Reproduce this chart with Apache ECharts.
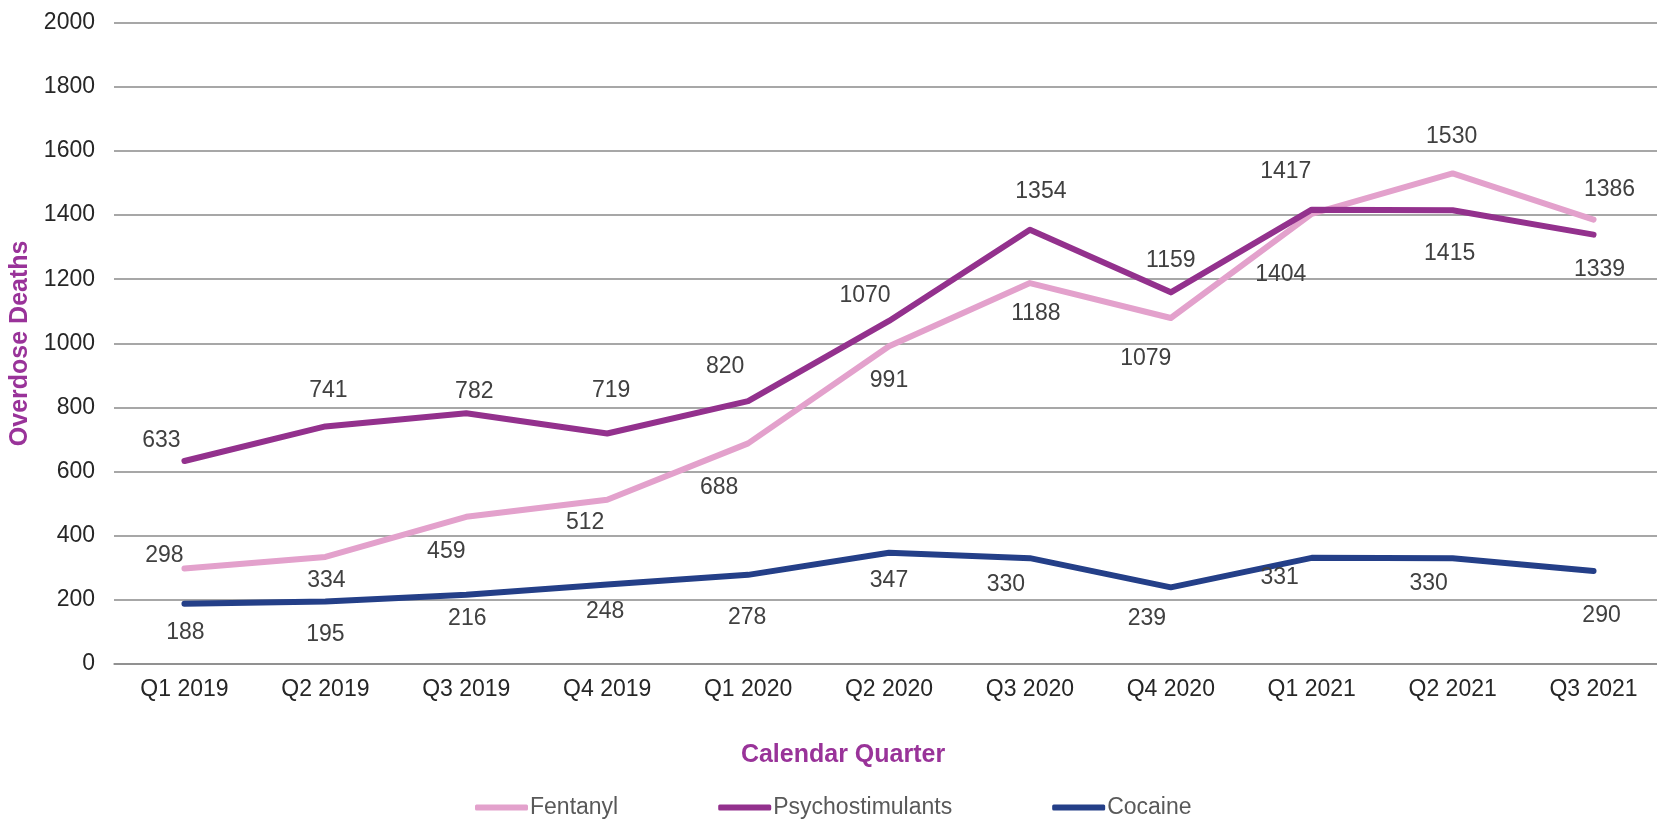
<!DOCTYPE html>
<html>
<head>
<meta charset="utf-8">
<script src="https://cdn.jsdelivr.net/npm/echarts@6/dist/echarts.min.js"></script>
<style>
html,body{margin:0;padding:0;background:#fff;}
#chart{width:1657px;height:819px;}
</style>
</head>
<body>
<div id="chart"></div>
<script>
const categories = ['Q1 2019','Q2 2019','Q3 2019','Q4 2019','Q1 2020','Q2 2020','Q3 2020','Q4 2020','Q1 2021','Q2 2021','Q3 2021'];
const fentanyl = [298, 334, 459, 512, 688, 991, 1188, 1079, 1404, 1530, 1386];
const psychostimulants = [633, 741, 782, 719, 820, 1070, 1354, 1159, 1417, 1415, 1339];
const cocaine = [188, 195, 216, 248, 278, 347, 330, 239, 331, 330, 290];
const yTicks = [0, 200, 400, 600, 800, 1000, 1200, 1400, 1600, 1800, 2000];

// label placement (layout only)
const fentanylLabelOffsets = [[-20,-13],[1,24],[-20,35],[-22,23],[-29,44],[0,34],[6,31],[-25,41],[-31,61],[-1,-37],[16,-30]];
const psychoLabelOffsets = [[-23,-20],[3,-36],[8,-22],[4,-43],[-23,-34],[-24,-25],[11,-38],[0,-32],[-26,-38],[-3,43],[6,35]];
const cocaineLabelOffsets = [[1,29],[0,33],[1,24],[-2,27],[-1,43],[0,28],[-24,26],[-24,31],[-32,20],[-24,25],[8,45]];

const FONT = '"Liberation Sans", Arial, sans-serif';
const labelStyle = {show: true, position: 'inside', color: '#404040', fontSize: 23, fontFamily: FONT, formatter: '{c}'};

function buildData(values, offsets) {
  return values.map((v, i) => ({value: v, label: {offset: offsets[i]}}));
}
function makeSeries(name, values, offsets, color) {
  return {
    name: name,
    type: 'line',
    data: buildData(values, offsets),
    symbol: 'circle',
    symbolSize: 1,
    showSymbol: true,
    lineStyle: {width: 6, color: color, cap: 'round', join: 'round'},
    itemStyle: {color: color},
    label: labelStyle,
    z: 3
  };
}

const chart = echarts.init(document.getElementById('chart'));
chart.setOption({
  backgroundColor: '#ffffff',
  animation: false,
  grid: {left: 114, right: -7, top: 22.7, bottom: 155, containLabel: false, outerBoundsMode: 'none'},
  legend: {
    left: 470, top: 791,
    itemWidth: 53, itemHeight: 6, itemGap: 100,
    icon: 'roundRect',
    textStyle: {fontSize: 23, color: '#595959', fontFamily: FONT, padding: [0,0,0,-3]},
    data: ['Fentanyl', 'Psychostimulants', 'Cocaine']
  },
  xAxis: {
    type: 'category',
    data: categories,
    boundaryGap: true,
    name: 'Calendar Quarter',
    nameLocation: 'middle',
    nameGap: 79,
    nameTextStyle: {fontSize: 25, fontWeight: 'bold', color: '#993399', fontFamily: FONT, padding: [0, 92, 0, 0]},
    axisLine: {show: true, lineStyle: {color: '#8a8a8a', width: 1.5}},
    axisTick: {show: false},
    axisLabel: {fontSize: 23, color: '#262626', fontFamily: FONT, margin: 14}
  },
  yAxis: {
    type: 'value',
    min: yTicks[0],
    max: yTicks[yTicks.length - 1],
    interval: yTicks[1] - yTicks[0],
    name: 'Overdose Deaths',
    nameLocation: 'middle',
    nameGap: 78,
    nameRotate: 90,
    nameTextStyle: {fontSize: 25, fontWeight: 'bold', color: '#993399', fontFamily: FONT},
    axisLine: {show: false},
    axisTick: {show: false},
    axisLabel: {fontSize: 23, color: '#262626', fontFamily: FONT, margin: 19, formatter: v => String(v)},
    splitLine: {show: true, lineStyle: {color: '#8a8a8a', width: 1.5}}
  },
  series: [
    makeSeries('Fentanyl', fentanyl, fentanylLabelOffsets, '#E3A1CC'),
    makeSeries('Psychostimulants', psychostimulants, psychoLabelOffsets, '#93318D'),
    makeSeries('Cocaine', cocaine, cocaineLabelOffsets, '#243F88')
  ]
});
</script>
</body>
</html>
